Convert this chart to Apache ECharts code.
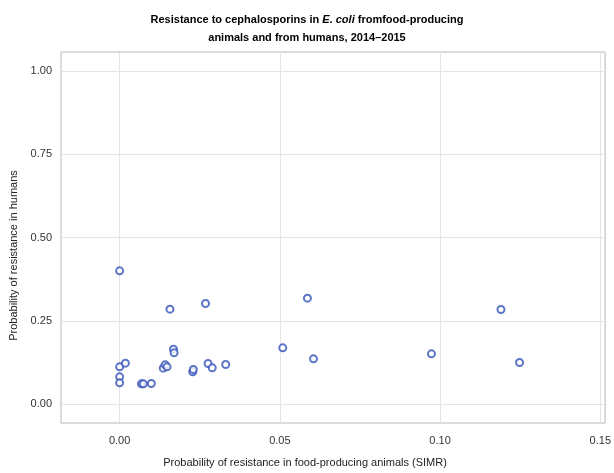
<!DOCTYPE html>
<html>
<head>
<meta charset="utf-8">
<script src="https://cdn.jsdelivr.net/npm/echarts@6/dist/echarts.min.js"></script>
<style>
html,body{margin:0;padding:0;background:#fff;}
#chart{width:614px;height:473px;}
</style>
</head>
<body>
<div id="chart"></div>
<script>
// Probability of resistance in food-producing animals (SIMR)
const animalRes = [
  0.0000, 0.0157, 0.0268, 0.0168, 0.0170, 0.0000, 0.0018, 0.0000, 0.0000,
  0.0068, 0.0074, 0.0099, 0.0136, 0.0142, 0.0148, 0.0228, 0.0230, 0.0276,
  0.0289, 0.0331, 0.0586, 0.1190, 0.0509, 0.0605, 0.0973, 0.1248
];
// Probability of resistance in humans
const humanRes = [
  0.400, 0.285, 0.302, 0.165, 0.154, 0.112, 0.123, 0.082, 0.064,
  0.061, 0.061, 0.062, 0.108, 0.118, 0.112, 0.097, 0.104, 0.122,
  0.109, 0.119, 0.318, 0.284, 0.169, 0.136, 0.151, 0.125
];
const xTicks = [0, 0.05, 0.10, 0.15];
const yTicks = [0, 0.25, 0.50, 0.75, 1.00];

const points = animalRes.map((v, i) => [v, humanRes[i]]);
const gridColor = '#e4e4e4';
const gridLines = [];
xTicks.forEach(t => gridLines.push({xAxis: t}));
yTicks.forEach(t => gridLines.push({yAxis: t}));

const chart = echarts.init(document.getElementById('chart'), null, {renderer: 'canvas'});
chart.setOption({
  animation: false,
  backgroundColor: '#fff',
  textStyle: {fontFamily: 'Liberation Sans, Arial, sans-serif'},
  title: {
    left: 'center',
    top: 6,
    text: '{b|Resistance to cephalosporins in }{i|E. coli}{b| fromfood-producing}\n{b|animals and from humans, 2014–2015}',
    textStyle: {
      rich: {
        b: {fontSize: 11, fontWeight: 'bold', color: '#000', fontFamily: 'Liberation Sans', lineHeight: 18},
        i: {fontSize: 11, fontWeight: 'bold', fontStyle: 'italic', color: '#000', fontFamily: 'Liberation Sans', lineHeight: 18}
      }
    }
  },
  grid: {
    left: 61, right: 2, top: 52, bottom: 46,
    show: true, borderColor: '#b8b8b8', borderWidth: 1,
    containLabel: false
  },
  xAxis: {
    type: 'value',
    min: -0.0183, max: 0.1515,
    name: 'Probability of resistance in food-producing animals (SIMR)',
    nameLocation: 'middle',
    nameGap: 34,
    nameTextStyle: {fontSize: 11, color: '#222', padding: [0, 56, 0, 0]},
    axisLine: {show: true, lineStyle: {color: '#b8b8b8'}},
    axisTick: {show: true, customValues: xTicks, length: 4, lineStyle: {color: '#888'}},
    axisLabel: {customValues: xTicks, fontSize: 11, color: '#333', margin: 12,
      formatter: v => v.toFixed(2)},
    splitLine: {show: false}
  },
  yAxis: {
    type: 'value',
    min: -0.0564, max: 1.0564,
    name: 'Probability of resistance in humans',
    nameLocation: 'middle',
    nameGap: 38,
    nameTextStyle: {fontSize: 11, color: '#222', padding: [0, 36, 0, 0]},
    axisLine: {show: true, lineStyle: {color: '#b8b8b8'}},
    axisTick: {show: true, customValues: yTicks, length: 4, lineStyle: {color: '#888'}},
    axisLabel: {customValues: yTicks, fontSize: 11, color: '#333', margin: 9,
      formatter: v => v.toFixed(2)},
    splitLine: {show: false}
  },
  series: [{
    type: 'scatter',
    data: points,
    symbol: 'emptyCircle',
    symbolSize: 7,
    itemStyle: {color: '#3552b8', borderColor: '#3552b8', borderWidth: 1.1},
    z: 3,
    markLine: {
      silent: true,
      symbol: ['none', 'none'],
      label: {show: false},
      lineStyle: {color: gridColor, width: 1, type: 'solid'},
      z: 1,
      data: gridLines
    }
  }]
});
</script>
</body>
</html>
